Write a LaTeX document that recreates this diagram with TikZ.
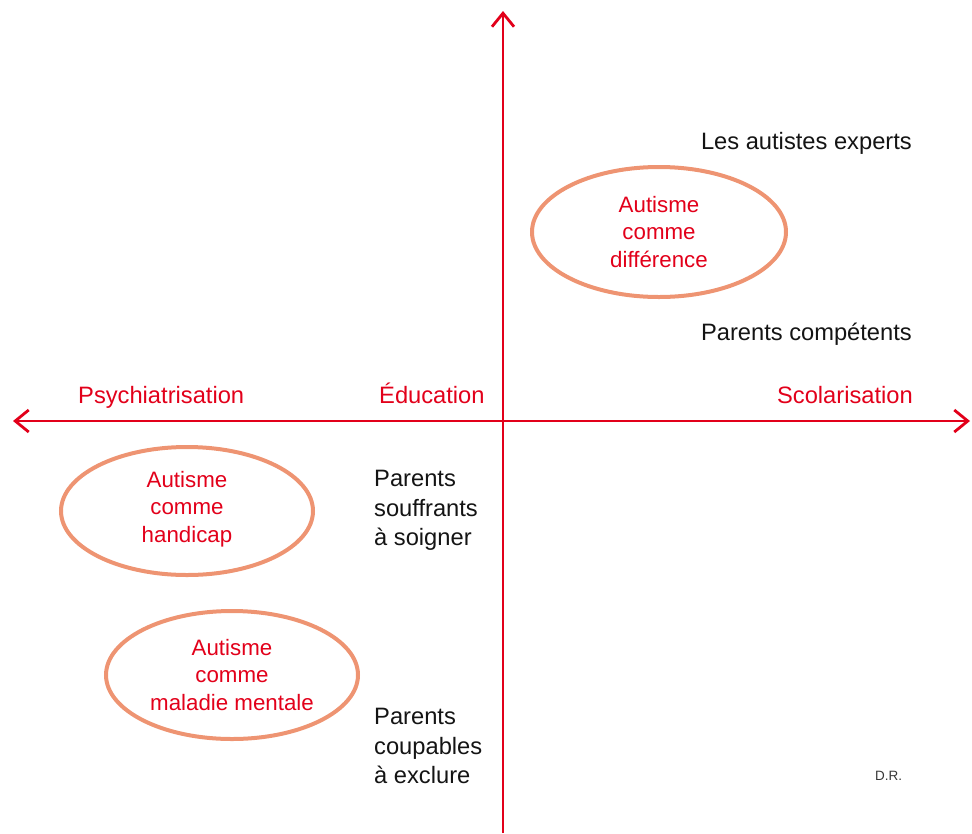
\documentclass[tikz,border=0pt]{standalone}
\usepackage{fontspec}
\setmainfont{Liberation Sans}
\usetikzlibrary{arrows.meta}
\definecolor{axisred}{RGB}{226,0,26}
\definecolor{ringorange}{RGB}{238,148,114}
\definecolor{inkblack}{RGB}{20,20,20}
\tikzset{
  barb/.tip={Straight Barb[length=13.5pt,width=22pt,line width=2.8pt]},
  axis/.style={draw=axisred, line width=2.8pt},
  ring/.style={draw=ringorange, line width=4pt},
  redlabel/.style={text=axisred, font=\fontsize{23.7}{29.5}\selectfont, inner sep=0pt},
  blacklabel/.style={text=inkblack, font=\fontsize{23.7}{29.5}\selectfont, inner sep=0pt},
  ringtext/.style={text=axisred, font=\fontsize{22.3}{27.5}\selectfont, align=center, inner sep=0pt},
}
\begin{document}
\begin{tikzpicture}[x=1pt,y=-1pt]
\useasboundingbox (0,0) rectangle (972,833);

% axes
\coordinate (xl) at (13,421);
\coordinate (xr) at (970,421);
\coordinate (yt) at (503,11);
\coordinate (yb) at (503,833);
\draw[axis, -barb] (yb) -- (yt);
\draw[axis, barb-barb] (xl) -- (xr);

% ellipses
\draw[ring] (659,232) ellipse [x radius=127, y radius=65];
\draw[ring] (187,511) ellipse [x radius=126, y radius=64];
\draw[ring] (232,675) ellipse [x radius=126, y radius=64];

\node[ringtext] (diff) at (659,232) {Autisme\\comme\\différence};
\node[ringtext] (hand) at (187,509) {Autisme\\comme\\handicap};
\node[ringtext] (mal) at (232,675) {Autisme\\comme\\maladie mentale};

% axis labels
\node[redlabel, anchor=base west] (psy) at (78,403) {Psychiatrisation};
\node[redlabel, anchor=base west] (edu) at (379,403) {Éducation};
\node[redlabel, anchor=base east] (sco) at (913,403) {Scolarisation};

% actors
\node[blacklabel, anchor=base east] (exp) at (912,149) {Les autistes experts};
\node[blacklabel, anchor=base east] (comp) at (912,340) {Parents compétents};
\node[blacklabel, align=left, anchor=north west] (souf) at (374,470) {Parents\\souffrants\\à soigner};
\node[blacklabel, align=left, anchor=north west] (coup) at (374,708) {Parents\\coupables\\à exclure};

\node[text=inkblack!85, font=\fontsize{13.5}{16}\selectfont, anchor=base west, inner sep=0pt] (dr) at (875,780) {D.R.};
\end{tikzpicture}
\end{document}
